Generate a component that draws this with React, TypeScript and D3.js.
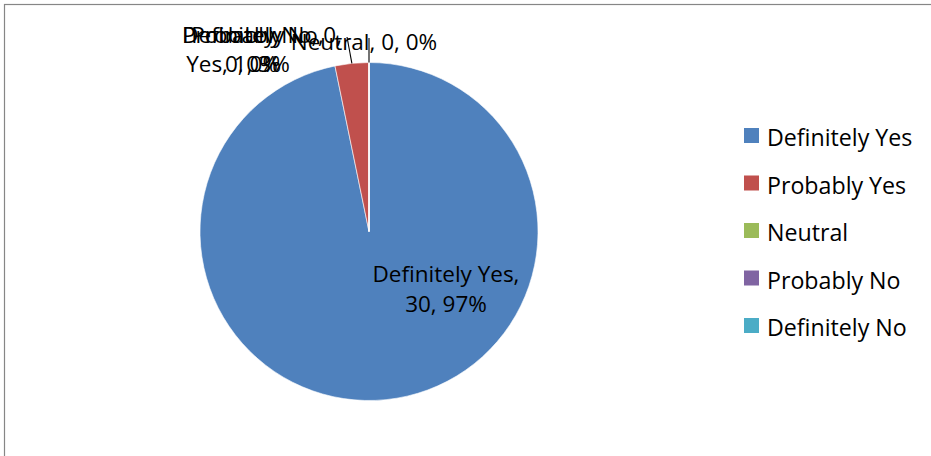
import React from 'react';
import * as d3 from 'd3';

const categories = ['Definitely Yes', 'Probably Yes', 'Neutral', 'Probably No', 'Definitely No'];
const values = [30, 1, 0, 0, 0];
const colors = ['#4F81BD', '#C0504D', '#9BBB59', '#8064A2', '#4BACC6'];

const W = 931;
const H = 456;
const FONT = "'Open Sans', Lato, sans-serif";

// label layout: how each label wraps and where it sits
const labelLayout = [
  { split: 1, cx: 446, y: [282, 312], leader: null },
  { split: 0, cx: 238, y: [43, 71.5], leader: [347, 37] },
  { split: -1, cx: 364, y: [50], leader: [369, 38] },
  { split: 2, cx: 262, y: [43, 71.5], leader: null },
  { split: 1, cx: 253, y: [43, 71.5], leader: null },
];

export default function App() {
  const total = d3.sum(values);
  const pct = d3.format('.0%');
  const pie = d3.pie<number>().sort(null).value((d) => d).startAngle(0).endAngle(2 * Math.PI);
  const arcs = pie(values);
  const cx = 369;
  const cy = 231.5;
  const r = 169;
  const arc = d3.arc<d3.PieArcDatum<number>>().innerRadius(0).outerRadius(r);

  const legendX = 744;
  const legendY0 = 146;
  const legendStep = 47.5;

  const labelText = (i: number) => {
    const words = `${categories[i]}, ${values[i]}, ${pct(values[i] / total)}`.split(' ');
    const s = labelLayout[i].split;
    if (s < 0) return [words.join(' ')];
    const idx = s === 0 ? 1 : s === 1 ? words.length - 2 : words.length - 1;
    return [words.slice(0, idx).join(' '), words.slice(idx).join(' ')];
  };

  return (
    <svg
      width={W}
      height={H}
      style={{ position: 'absolute', left: 0, top: 0, background: '#fff' }}
      fontFamily={FONT}
    >
      <rect x={4.5} y={4.5} width={2000} height={2000} fill="#fff" stroke="#868686" strokeWidth={1.2} />
      <g transform={`translate(${cx},${cy})`}>
        {arcs.map((a, i) => (
          <path key={i} d={arc(a) || ''} fill={colors[i]} stroke="#fff" strokeWidth={0.6} />
        ))}
      </g>
      {arcs.map((a, i) => {
        const L = labelLayout[i];
        if (!L.leader) return null;
        const mid = (a.startAngle + a.endAngle) / 2;
        const x0 = cx + r * Math.sin(mid);
        const y0 = cy - r * Math.cos(mid);
        return (
          <line key={'l' + i} x1={x0} y1={y0} x2={L.leader[0]} y2={L.leader[1]} stroke="#000" strokeWidth={1.1} />
        );
      })}
      {categories.map((c, i) => {
        const L = labelLayout[i];
        const lines = labelText(i);
        return (
          <text key={'t' + i} textAnchor="middle" fontSize={22.5} fill="#000">
            {lines.map((ln, j) => (
              <tspan key={j} x={L.cx} y={L.y[j]}>
                {ln}
              </tspan>
            ))}
          </text>
        );
      })}
      {categories.map((c, i) => (
        <g key={'lg' + i} transform={`translate(${legendX},${legendY0 + i * legendStep})`}>
          <rect x={0} y={-18} width={15} height={15} fill={colors[i]} />
          <text x={23} y={0} fontSize={23.2} fill="#000">
            {c}
          </text>
        </g>
      ))}
    </svg>
  );
}
